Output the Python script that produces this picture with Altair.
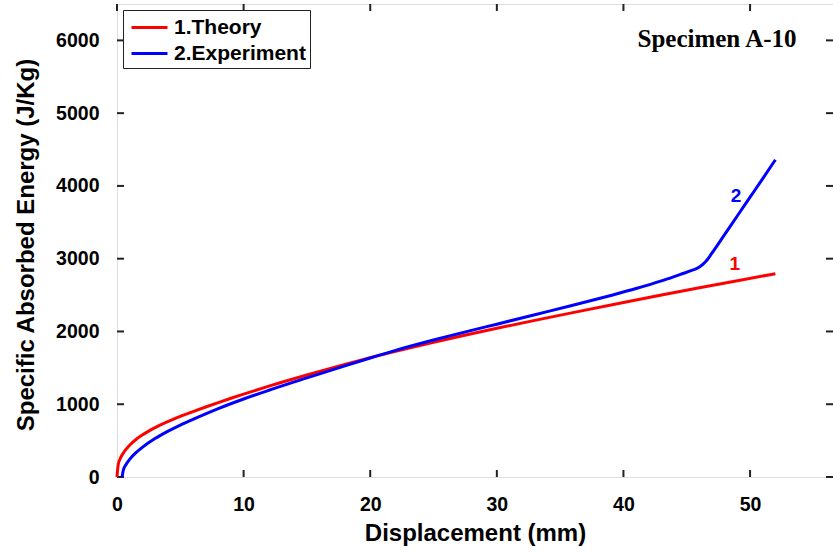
import altair as alt
import pandas as pd

# ---- data ----
theory_x = [0, 0.1, 0.25, 0.5, 1, 1.5, 2, 3, 4, 5, 6, 7, 8, 9, 10, 12, 15, 18, 20, 22, 25, 28, 30, 33, 36, 40, 43, 46, 49, 52]
theory_y = [0, 174, 251, 331, 437, 515, 577, 678, 761, 833, 899, 962, 1023, 1082, 1139, 1249, 1402, 1547, 1640, 1728, 1852, 1968, 2043, 2152, 2259, 2398, 2500, 2600, 2698, 2794]

exper_x = [0.4, 0.5, 0.7, 1, 1.5, 2, 3, 4, 5, 6, 8, 10, 12, 15, 18, 20, 22, 25, 28, 30, 33, 36, 39, 41, 43, 44.5, 45.5, 46, 46.5, 47, 48, 49, 50, 51, 52]
exper_y = [0, 94, 168, 243, 335, 408, 528, 627, 714, 792, 940, 1072, 1192, 1362, 1528, 1636, 1740, 1882, 2015, 2100, 2230, 2360, 2495, 2590, 2695, 2785, 2845, 2885, 2960, 3080, 3335, 3590, 3845, 4100, 4360]

series_names = ["1.Theory", "2.Experiment"]
series_colors = ["#FF0000", "#0000FF"]

x_tick_values = [0, 10, 20, 30, 40, 50]
y_tick_values = [0, 1000, 2000, 3000, 4000, 5000, 6000]

note_text = ["2", "1"]
note_x = [48.9, 48.8]
note_y = [3860, 2930]
note_color = ["#0000FF", "#FF0000"]

specimen_label = "Specimen A-10"

# ---- tables ----
df = pd.concat([
    pd.DataFrame({"x": theory_x, "y": theory_y, "series": series_names[0]}),
    pd.DataFrame({"x": exper_x, "y": exper_y, "series": series_names[1]}),
], ignore_index=True)
xt = pd.DataFrame({"x": x_tick_values})
yt = pd.DataFrame({"y": y_tick_values})
notes = pd.DataFrame({"t": note_text, "x": note_x, "y": note_y, "c": note_color})

W, H = 716, 473
xs = alt.Scale(domain=[0, 56.55], nice=False, zero=False)
ys = alt.Scale(domain=[0, 6500], nice=False)
FONT = "Liberation Sans"

x_axis = alt.Axis(values=x_tick_values, title="Displacement (mm)", format="d", labelFontSize=19.5,
                  labelFontWeight="bold", labelColor="black", labelFont=FONT, ticks=False,
                  domain=False, grid=False, labelPadding=18, labelFlush=False,
                  titleFontSize=24, titleFontWeight="bold", titleFont=FONT, titleColor="black",
                  titleX=W / 2, titleY=63, titleBaseline="alphabetic", titleAlign="center")
y_axis = alt.Axis(values=y_tick_values, title="Specific Absorbed Energy (J/Kg)", format="d",
                  labelFontSize=19.5, labelFontWeight="bold", labelColor="black", labelFont=FONT,
                  ticks=False, domain=False, grid=False, labelPadding=18, labelFlush=False,
                  titleFontSize=24, titleFontWeight="bold", titleFont=FONT, titleColor="black",
                  titleX=-84, titleY=H / 2 + 4, titleAngle=270, titleBaseline="alphabetic",
                  titleAlign="center")

lines = alt.Chart(df).mark_line(strokeWidth=3, interpolate="monotone").encode(
    x=alt.X("x:Q", scale=xs, axis=x_axis),
    y=alt.Y("y:Q", scale=ys, axis=y_axis),
    color=alt.Color("series:N",
                    scale=alt.Scale(domain=series_names, range=series_colors),
                    legend=alt.Legend(title=None, orient="none", legendX=6, legendY=6,
                                      strokeColor="#222", fillColor="white", padding=4,
                                      symbolType="M-1.5,0H1.5", symbolSize=576,
                                      symbolStrokeWidth=3, symbolOffset=9,
                                      labelFontSize=21, labelFontWeight="bold", labelFont=FONT,
                                      labelColor="black", labelOffset=11, rowPadding=2)),
)

tick_style = dict(color="#222", strokeWidth=2)
bottom_ticks = alt.Chart(xt).mark_rule(**tick_style).encode(
    x=alt.X("x:Q", scale=xs), y=alt.value(H), y2=alt.value(H - 7))
top_ticks = alt.Chart(xt).mark_rule(**tick_style).encode(
    x=alt.X("x:Q", scale=xs), y=alt.value(0), y2=alt.value(7))
left_ticks = alt.Chart(yt).mark_rule(**tick_style).encode(
    y=alt.Y("y:Q", scale=ys), x=alt.value(0), x2=alt.value(7))
right_ticks = alt.Chart(yt).mark_rule(**tick_style).encode(
    y=alt.Y("y:Q", scale=ys), x=alt.value(W), x2=alt.value(W - 7))

note_marks = alt.Chart(notes).mark_text(fontSize=19, fontWeight="bold", font=FONT,
                                        align="center", baseline="middle").encode(
    x=alt.X("x:Q", scale=xs), y=alt.Y("y:Q", scale=ys), text="t:N",
    color=alt.Color("c:N", scale=None))

spec_text = alt.Chart(pd.DataFrame({"t": [specimen_label]})).mark_text(
    font="Liberation Serif", fontSize=25, fontWeight="bold", color="black",
    align="center", baseline="alphabetic").encode(
    x=alt.value(600), y=alt.value(43), text="t:N")

chart = alt.layer(bottom_ticks, top_ticks, left_ticks, right_ticks, lines, note_marks, spec_text).properties(
    width=W, height=H,
    autosize=alt.AutoSizeParams(type="none"),
    padding={"left": 117, "top": 4, "right": 0, "bottom": 78},
).configure_view(stroke="#222", strokeWidth=2).configure(background="white")

chart.save("out.html", embed_options={"renderer": "svg", "actions": False})
